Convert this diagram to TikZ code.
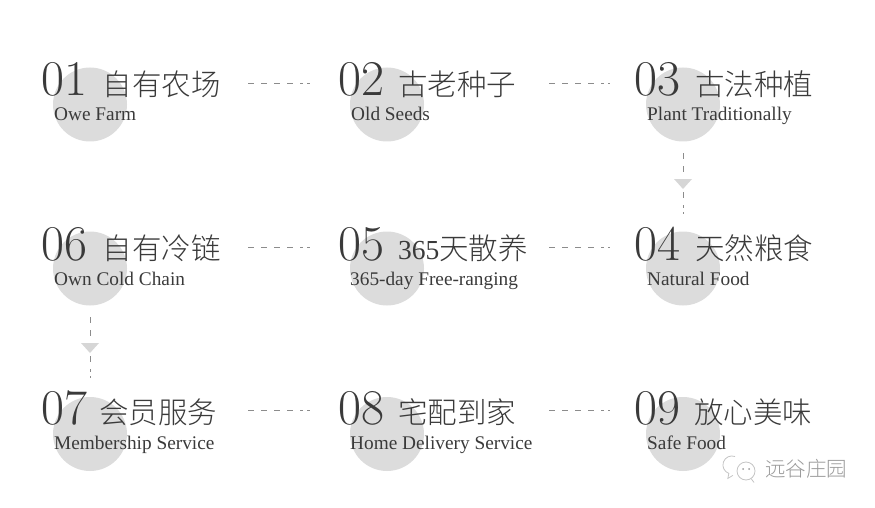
\documentclass[tikz,border=0pt]{standalone}
\usepackage{fontspec}
\setmainfont{Liberation Serif}
\newfontfamily\cjk{Noto Sans CJK SC Light}
\newfontfamily\numf{Latin Modern Roman}
\definecolor{discc}{HTML}{DCDCDC}
\definecolor{ink}{HTML}{3A3A3A}
\definecolor{dashc}{HTML}{8C8C8C}
\definecolor{arrowc}{HTML}{D6D6D6}
\definecolor{markc}{HTML}{9A9A9A}
\definecolor{wmline}{HTML}{C4C4C4}
\tikzset{
  discnode/.style={circle,fill=discc,minimum size=74pt,inner sep=0pt},
  numtxt/.style={anchor=base west,inner sep=0pt,text=ink,xscale=1.0,font=\numf\fontsize{50}{50}\selectfont},
  titletxt/.style={anchor=base west,inner sep=0pt,text=ink,font=\cjk\fontsize{29.5}{30}\selectfont},
  subtxt/.style={anchor=base west,inner sep=0pt,text=ink,font=\fontsize{19.3}{20}\selectfont},
  link/.style={draw=dashc,line width=.8pt,dash pattern=on 6pt off 7pt on 6pt off 7pt on 6pt off 7pt on 6pt off 7pt on 3pt off 4pt on 3pt off 10pt},
  tri/.style={fill=arrowc,draw=none},
  wmshape/.style={draw=wmline,line width=.8pt},
  wmdot/.style={fill=markc,draw=none}
}
\begin{document}
\begin{tikzpicture}[x=1pt,y=-1pt]
\useasboundingbox (0,0) rectangle (875,508);
% discs
\node[discnode] (d1) at (90,104.5) {};
\node[discnode] (d2) at (387,104.5) {};
\node[discnode] (d3) at (683,104.5) {};
\node[discnode] (d6) at (90,268.5) {};
\node[discnode] (d5) at (387,268.5) {};
\node[discnode] (d4) at (683,268.5) {};
\node[discnode] (d7) at (90,434) {};
\node[discnode] (d8) at (387,434) {};
\node[discnode] (d9) at (683,434) {};
% numbers
\node[numtxt] (n1) at (41,96) {01};
\node[numtxt] (n2) at (338,96) {02};
\node[numtxt] (n3) at (634,96) {03};
\node[numtxt] (n6) at (41,260) {06};
\node[numtxt] (n5) at (338,260) {05};
\node[numtxt] (n4) at (634,260) {04};
\node[numtxt] (n7) at (41,424) {07};
\node[numtxt] (n8) at (338,424) {08};
\node[numtxt] (n9) at (634,424) {09};
% titles
\node[titletxt] (t1) at (102.5,95.5) {自有农场};
\node[titletxt] (t2) at (398,95.5) {古老种子};
\node[titletxt] (t3) at (695,95.5) {古法种植};
\node[titletxt] (t6) at (102.5,259) {自有冷链};
\node[titletxt] (t5) at (398,259) {\fontsize{27.5}{28}\selectfont\rmfamily 365\cjk\fontsize{29.5}{30}\selectfont 天散养};
\node[titletxt] (t4) at (695,259) {天然粮食};
\node[titletxt] (t7) at (99,423.5) {会员服务};
\node[titletxt] (t8) at (398,423.5) {宅配到家};
\node[titletxt] (t9) at (694,423.5) {放心美味};
% subtitles
\node[subtxt] (s1) at (54,120.5) {Owe Farm};
\node[subtxt] (s2) at (351,120.5) {Old Seeds};
\node[subtxt] (s3) at (647,120.5) {Plant Traditionally};
\node[subtxt] (s6) at (54,285.5) {Own Cold Chain};
\node[subtxt] (s5) at (350,285.5) {365-day Free-ranging};
\node[subtxt] (s4) at (647,285.5) {Natural Food};
\node[subtxt] (s7) at (54,449.5) {Membership Service};
\node[subtxt] (s8) at (350,449.5) {Home Delivery Service};
\node[subtxt] (s9) at (647,449.5) {Safe Food};
% connector ends
\coordinate (a1) at (248,83.5); \coordinate (b1) at (310,83.5);
\coordinate (a2) at (549,83.5); \coordinate (b2) at (610,83.5);
\coordinate (a3) at (683,153);  \coordinate (b3) at (683,214);
\coordinate (a4) at (549,247);  \coordinate (b4) at (610,247);
\coordinate (a5) at (248,247);  \coordinate (b5) at (310,247);
\coordinate (a6) at (90,317);   \coordinate (b6) at (90,378);
\coordinate (a7) at (248,410);  \coordinate (b7) at (310,410);
\coordinate (a8) at (549,410);  \coordinate (b8) at (610,410);
\foreach \i in {1,...,8} {\draw[link] (a\i) -- (b\i);}
% down arrows
\coordinate (h3) at (683,179); \coordinate (h6) at (90,343);
\foreach \h in {h3,h6} {\fill[tri] (\h) ++(-9,0) -- ++(18,0) -- ++(-9,10) -- cycle;}
% watermark
\coordinate (wa) at (732,465);
\coordinate (wb) at (746,471);
\draw[wmshape] (wa) ++(3,-8.5) arc [start angle=-70,end angle=-250,radius=9] -- ++(-1,5) -- ++(5,-3);
\draw[wmshape] (wb) circle [radius=9];
\draw[wmshape] (wb) ++(5,7.5) -- ++(3,4);
\fill[wmdot] (wb) ++(-3,-2) circle [radius=1];
\fill[wmdot] (wb) ++(3,-2) circle [radius=1];
\node[anchor=base west,inner sep=0pt,text=markc,font=\cjk\fontsize{20.5}{21}\selectfont] (wm) at (765,476) {远谷庄园};
\end{tikzpicture}
\end{document}
